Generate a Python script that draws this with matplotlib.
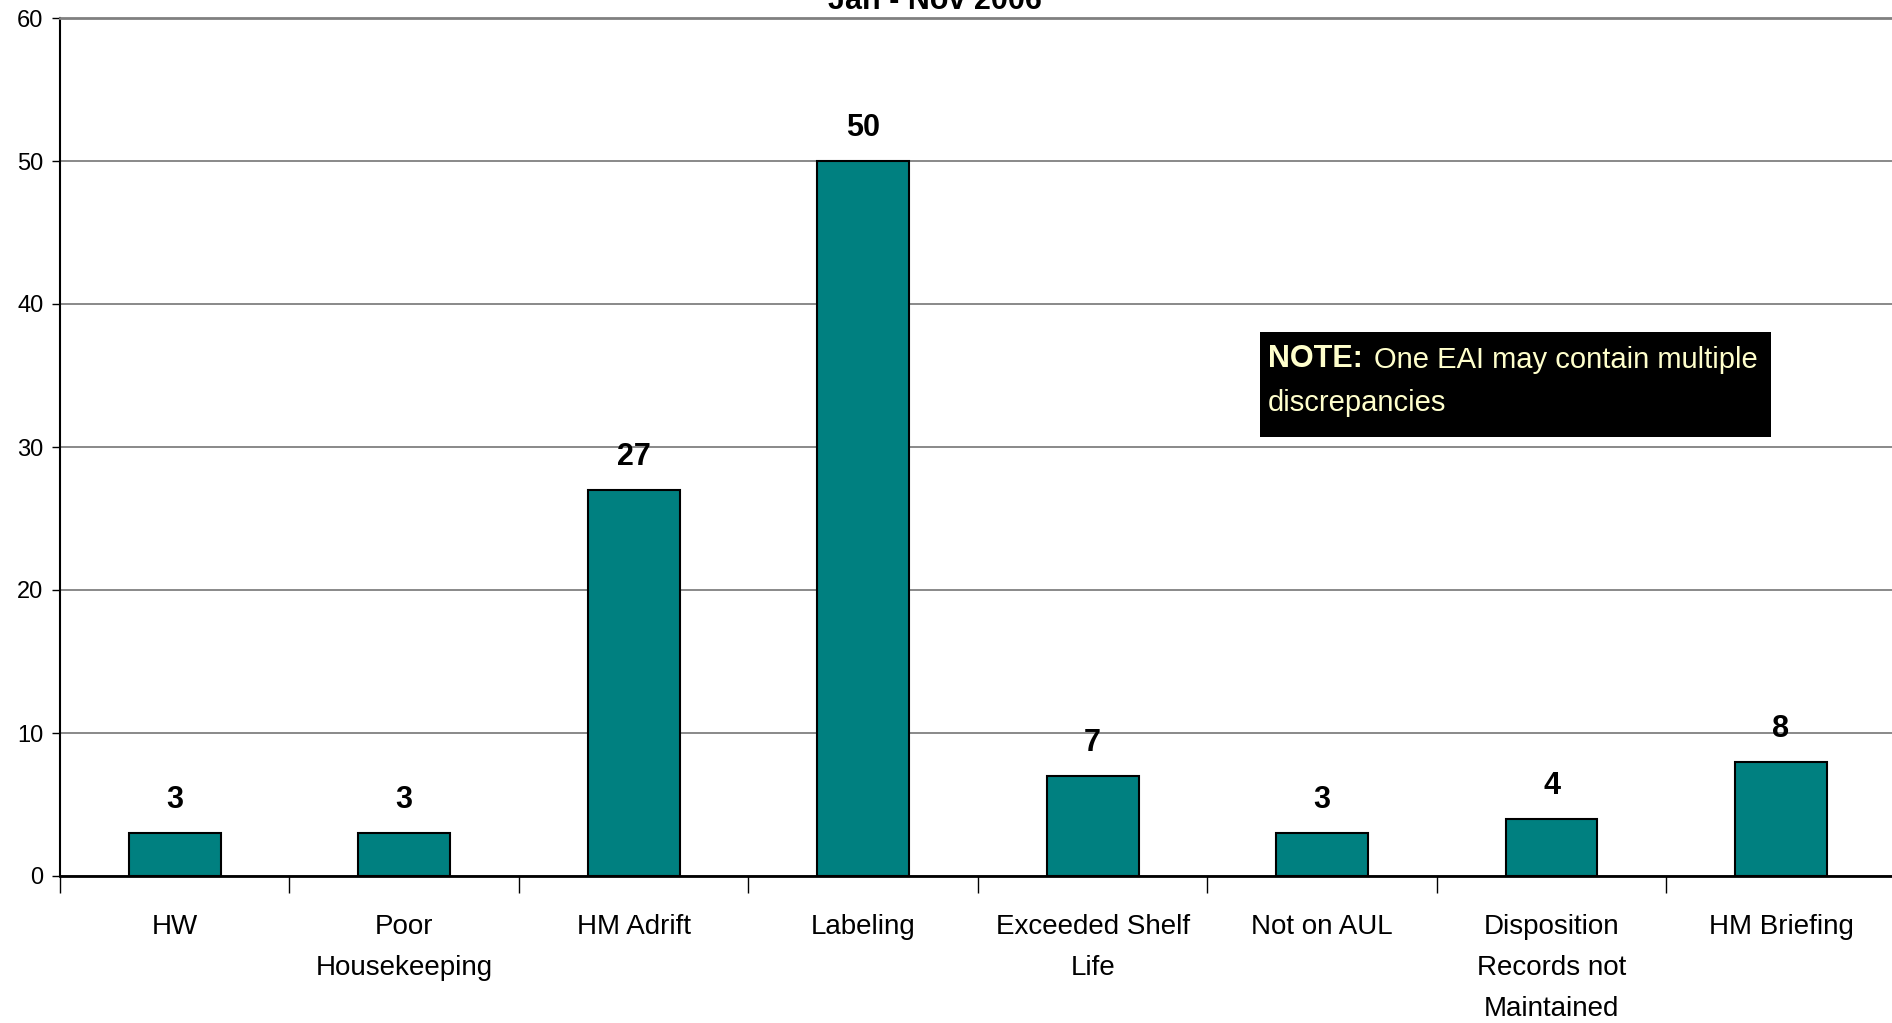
import matplotlib.pyplot as plt
from matplotlib.patches import Rectangle

# discrepancy counts, Jan - Nov 2006
categories = ["HW", "Poor\nHousekeeping", "HM Adrift", "Labeling",
              "Exceeded Shelf\nLife", "Not on AUL",
              "Disposition\nRecords not\nMaintained", "HM Briefing"]
counts = [3, 3, 27, 50, 7, 3, 4, 8]
y_ticks = [0, 10, 20, 30, 40, 50, 60]

font = ["Liberation Sans", "DejaVu Sans"]

W, H = 1892, 1023
fig = plt.figure(figsize=(W / 100, H / 100), dpi=100)
ax = fig.add_axes([60 / W, 1 - 876 / H, 1 - 60 / W + 0.002, (876 - 18) / H])

x = list(range(len(categories)))
ax.bar(x, counts, width=0.4, color="#008080", edgecolor="black",
       linewidth=1.5, zorder=3)

# value labels above bars
for xi, c in zip(x, counts):
    ax.annotate(str(c), xy=(xi, c), xytext=(0, 13), textcoords="offset points",
                ha="center", va="bottom", fontsize=22, fontweight="bold",
                family=font)

ax.set_xlim(-0.5, len(categories) - 0.5)
ax.set_ylim(0, 60)
ax.set_yticks(y_ticks)
ax.set_yticklabels([str(v) for v in y_ticks], family=font, fontsize=17)
ax.tick_params(axis="y", length=6, width=1, pad=6, direction="out")

# category labels at centres, separator ticks at boundaries
ax.set_xticks(x)
ax.set_xticklabels(categories, family=font, fontsize=20, linespacing=1.75)
ax.tick_params(axis="x", which="major", length=0, pad=27.5)
ax.set_xticks([i - 0.5 for i in range(len(categories))], minor=True)
ax.tick_params(axis="x", which="minor", length=12, width=1, direction="out")

ax.grid(axis="y", color="#808080", linewidth=1.3, zorder=0)
ax.set_axisbelow(True)
ax.spines["top"].set_color("#808080")
ax.spines["top"].set_linewidth(2)
ax.spines["right"].set_visible(False)
ax.spines["left"].set_linewidth(1.5)
ax.spines["bottom"].set_linewidth(2)

# title, cut off at the top edge like the source
fig.text(935 / W, 1 - 9 / H, "Jan - Nov 2006", ha="center", va="baseline",
         fontsize=22, fontweight="bold", family=font)

# note box
ax.add_patch(Rectangle((1260 / W, 1 - 437 / H), (1771 - 1260) / W,
                       (437 - 332) / H, transform=fig.transFigure,
                       facecolor="black", edgecolor="none", zorder=5,
                       clip_on=False))
note = ax.text(1268 / W, 1 - 367 / H, "NOTE:", ha="left", va="baseline",
               fontsize=22, fontweight="bold", color="#FFFFCC",
               family=font, zorder=6, transform=fig.transFigure)
ax.annotate("One EAI may contain multiple", xy=(1, 0), xycoords=note,
            xytext=(8, 0), textcoords="offset points", ha="left",
            va="bottom", fontsize=21, color="#FFFFCC", family=font,
            zorder=6, annotation_clip=False)
ax.text(1268 / W, 1 - 411 / H, "discrepancies", ha="left", va="baseline",
        fontsize=21, color="#FFFFCC", family=font, zorder=6,
        transform=fig.transFigure)

fig.savefig("out.png", dpi=100)
